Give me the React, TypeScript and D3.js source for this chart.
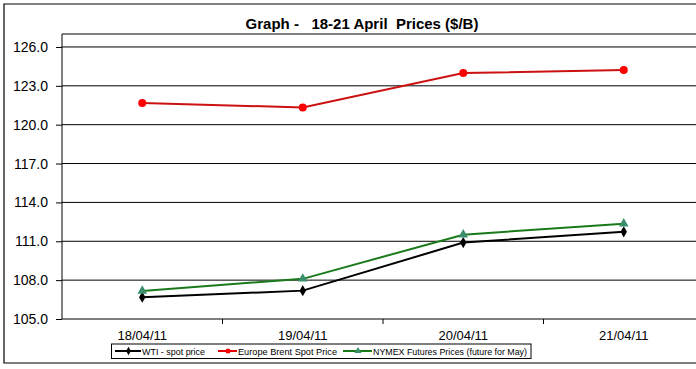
import * as d3 from "d3";
import { useEffect, useRef } from "react";

const dates = ["18/04/11", "19/04/11", "20/04/11", "21/04/11"];
const wti = [106.68, 107.19, 110.9, 111.73];
const brent = [121.67, 121.33, 123.99, 124.22];
const nymex = [107.17, 108.1, 111.51, 112.36];
const yTicks = [105, 108, 111, 114, 117, 120, 123, 126];

const legendLabels = [
  "WTI - spot price",
  "Europe Brent Spot Price",
  "NYMEX Futures Prices (future for May)",
];

export default function App({
  width = 696,
  height = 369,
  marginTop = 34,
  marginLeft = 62,
  plotRight = 704,
  plotBottom = 319,
}: {
  width?: number,
  height?: number,
  marginTop?: number,
  marginLeft?: number,
  plotRight?: number,
  plotBottom?: number,
}) {
  const axisx: any = useRef();
  const axisy: any = useRef();

  const x: any = d3.scaleBand(dates, [marginLeft, plotRight]);
  const y: any = d3.scaleLinear([105, 127], [plotBottom, marginTop]);

  const line = d3.line<number>()
    .x((_, i) => x(dates[i]) + x.bandwidth() / 2)
    .y(d => y(d));

  const font = "'Liberation Sans', Arial, sans-serif";

  useEffect(() => {
    d3.select(axisx.current)
      .call(d3.axisBottom(x).tickSize(0).tickPadding(12))
      .call(g => g.select(".domain").remove())
      .call(g => g.selectAll(".tick text")
        .attr("font-size", 13)
        .attr("font-family", font)
        .attr("fill", "#000"));
    // tick marks between categories
    const sel = d3.select(axisx.current);
    sel.selectAll(".sep").remove();
    dates.slice(1).forEach(d => {
      sel.append("line").attr("class", "sep")
        .attr("x1", x(d)).attr("x2", x(d))
        .attr("y1", 0).attr("y2", 5)
        .attr("stroke", "#000");
    });

    d3.select(axisy.current)
      .call(d3.axisLeft(y).tickValues(yTicks).tickFormat(d3.format(".1f")).tickSize(6).tickPadding(8))
      .call(g => g.select(".domain").remove())
      .call(g => g.selectAll(".tick line").attr("stroke", "#000"))
      .call(g => g.selectAll(".tick text")
        .attr("font-size", 14)
        .attr("font-family", font)
        .attr("fill", "#000"));
  }, [x, y]);

  const cx = (i: number) => x(dates[i]) + x.bandwidth() / 2;

  const legendX = [115, 218, 343];
  const legendTextX = [142, 238, 373];
  const legendTextLen = [63, 99, 154];
  const legendColors = ["#000", "#e00000", "#1a7a1a"];

  return (
    <svg width={width} height={height} style={{ position: "absolute", left: 0, top: 0 }}>
      <rect x={0} y={0} width={width} height={height} fill="#fff" />
      {/* outer chart frame, open on the right (cropped in the reference) */}
      <path d={`M${width + 10},4 H4 V363 H${width + 10}`} fill="none" stroke="#000" strokeWidth={1.2} />
      <text x={362} y={29} textAnchor="middle" fontFamily={font} fontWeight="bold" fontSize={15}
        style={{ whiteSpace: "pre" }}>
        {"Graph -   18-21 April  Prices ($/B)"}
      </text>

      {yTicks.map(t => (
        <line key={t} x1={marginLeft} x2={plotRight} y1={y(t)} y2={y(t)} stroke="#000" strokeWidth={1} />
      ))}
      <line x1={marginLeft} x2={plotRight} y1={marginTop} y2={marginTop} stroke="#000" strokeWidth={1} />
      <line x1={marginLeft} x2={marginLeft} y1={marginTop} y2={plotBottom} stroke="#000" strokeWidth={1} />

      <g ref={axisx} transform={`translate(0, ${plotBottom})`} />
      <g ref={axisy} transform={`translate(${marginLeft}, 0)`} />

      <path fill="none" stroke="#000" strokeWidth={2} d={line(wti) as string} />
      <path fill="none" stroke="#cc1111" strokeWidth={2} d={line(brent) as string} />
      <path fill="none" stroke="#1a7a1a" strokeWidth={2} d={line(nymex) as string} />

      {wti.map((d, i) => (
        <path key={"w" + i} d={d3.symbol(d3.symbolDiamond, 36)() as string}
          transform={`translate(${cx(i)},${y(d)})`} fill="#000" />
      ))}
      {brent.map((d, i) => (
        <circle key={"b" + i} cx={cx(i)} cy={y(d)} r={4} fill="#ff0000" />
      ))}
      {nymex.map((d, i) => (
        <path key={"n" + i} d={d3.symbol(d3.symbolTriangle, 40)() as string}
          transform={`translate(${cx(i)},${y(d)})`} fill="#3a8f6a" />
      ))}

      <rect x={111.5} y={344} width={419.5} height={14.5} fill="#fff" stroke="#000" strokeWidth={1} />
      {legendLabels.map((l, i) => (
        <g key={l}>
          <line x1={legendX[i]} x2={legendTextX[i] - 1} y1={351} y2={351}
            stroke={legendColors[i]} strokeWidth={2} />
          {i === 0 && <path d={d3.symbol(d3.symbolDiamond, 20)() as string}
            transform={`translate(${(legendX[i] + legendTextX[i]) / 2},351)`} fill="#000" />}
          {i === 1 && <circle cx={(legendX[i] + legendTextX[i]) / 2} cy={351} r={2.5} fill="#ff0000" />}
          {i === 2 && <path d={d3.symbol(d3.symbolTriangle, 22)() as string}
            transform={`translate(${(legendX[i] + legendTextX[i]) / 2},351)`} fill="#3a8f6a" />}
          <text x={legendTextX[i]} y={354.5} fontFamily={font} fontSize={9.5}
            textLength={legendTextLen[i]} lengthAdjust="spacingAndGlyphs">{l}</text>
        </g>
      ))}
    </svg>
  );
}
